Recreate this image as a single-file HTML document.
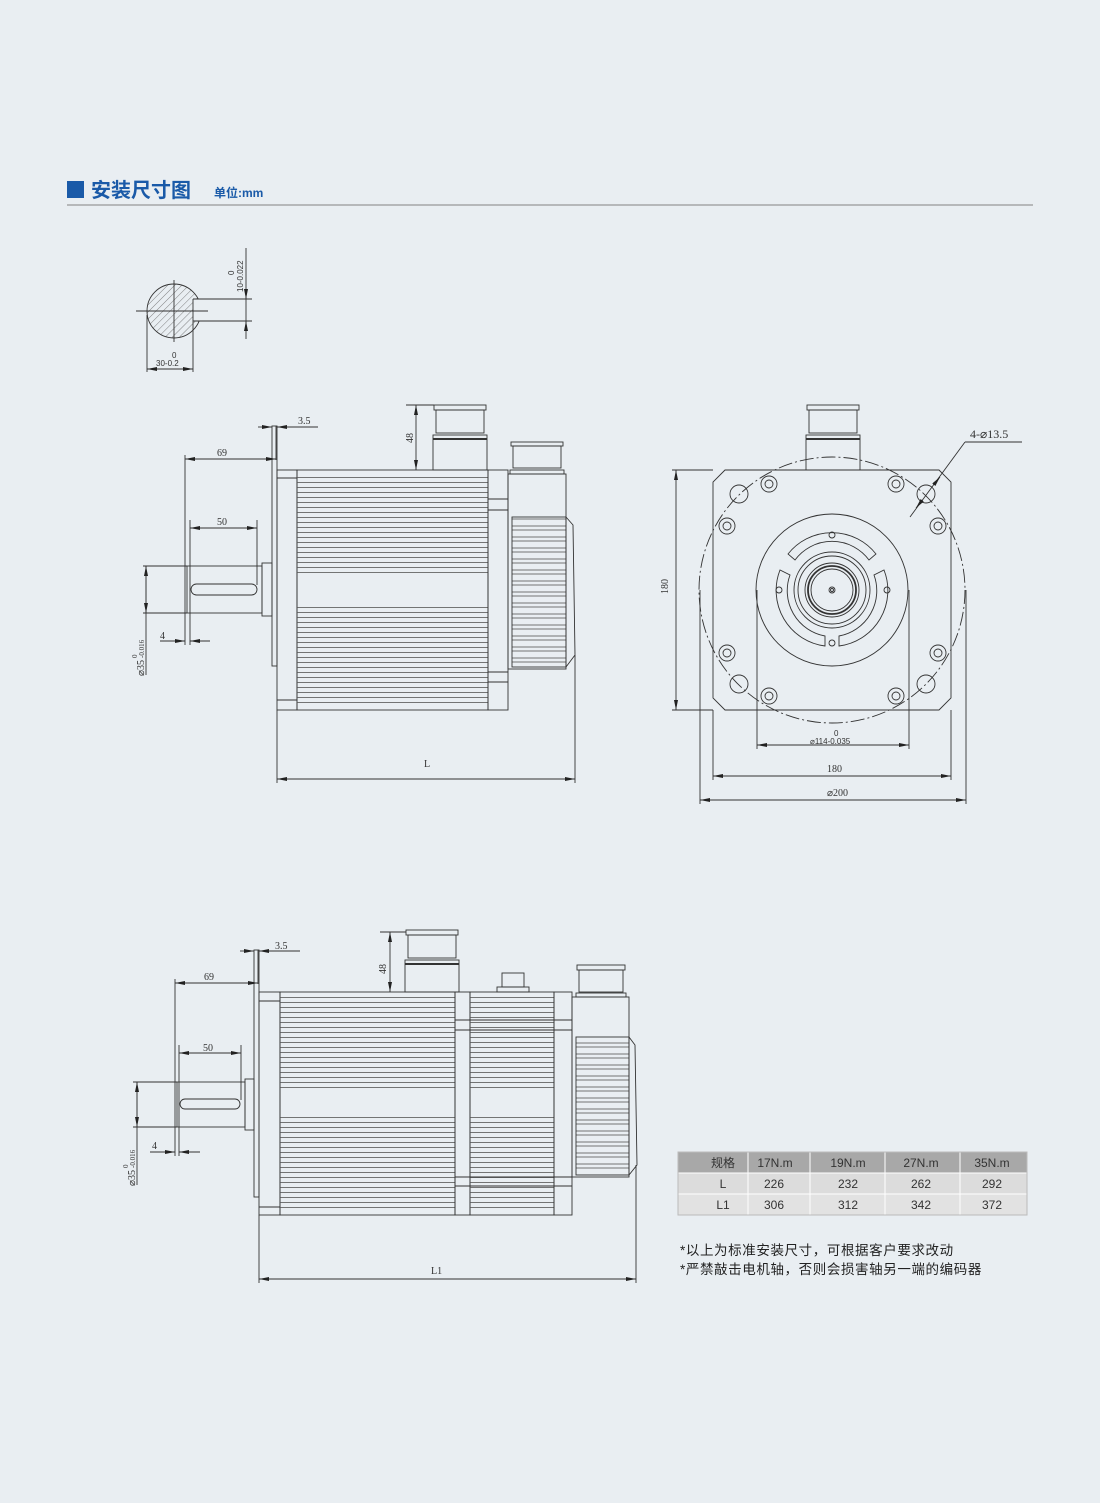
<!DOCTYPE html>
<html><head><meta charset="utf-8"><style>
html,body{margin:0;padding:0;background:#e9eef2;}
body{width:1100px;height:1503px;position:relative;overflow:hidden;font-family:"Liberation Sans","Noto Sans CJK SC",sans-serif;}
</style></head><body>
<svg width="1100" height="1503" viewBox="0 0 1100 1503" xmlns="http://www.w3.org/2000/svg" style="position:absolute;left:0;top:0">
<defs>
<marker id="a" viewBox="0 0 10 4" refX="10" refY="2" markerWidth="10" markerHeight="4" markerUnits="userSpaceOnUse" orient="auto-start-reverse"><path d="M0,0L10,2L0,4z" fill="#222"/></marker>
<pattern id="fin" width="10" height="5" patternUnits="userSpaceOnUse"><line x1="0" y1="2.5" x2="10" y2="2.5" stroke="#555" stroke-width="0.8"/></pattern>
<pattern id="efin" width="10" height="11" patternUnits="userSpaceOnUse"><rect x="-1" y="2" width="12" height="7" fill="none" stroke="#555" stroke-width="0.8"/></pattern>
<pattern id="hatch" width="5" height="5" patternUnits="userSpaceOnUse" patternTransform="rotate(45)"><line x1="0" y1="0" x2="0" y2="5" stroke="#666" stroke-width="0.8"/></pattern>
</defs>

<!-- header -->
<rect x="67" y="181" width="17" height="17" fill="#1a5aa8"/>
<text x="91" y="197" font-size="20" font-weight="bold" fill="#1a5aa8" font-family="Liberation Sans,Noto Sans CJK SC,sans-serif">安装尺寸图</text>
<text x="214" y="197" font-size="12" font-weight="bold" fill="#1a5aa8" font-family="Liberation Sans,Noto Sans CJK SC,sans-serif">单位:mm</text>
<line x1="67" y1="205" x2="1033" y2="205" stroke="#999" stroke-width="1.2"/>

<g fill="none" stroke="#333" stroke-width="0.9">
<!-- shaft section -->
<circle cx="174" cy="311" r="27" fill="url(#hatch)"/>
<rect x="193" y="299" width="10" height="22" fill="#e9eef2" stroke="none"/>
<line x1="193" y1="299" x2="193" y2="321"/>
<line x1="136" y1="311" x2="208" y2="311"/>
<line x1="174" y1="280" x2="174" y2="342"/>
<line x1="193" y1="299" x2="252" y2="299"/><line x1="193" y1="321" x2="252" y2="321"/>
<line x1="246" y1="248" x2="246" y2="339"/>
<line x1="246" y1="290" x2="246" y2="299" marker-end="url(#a)"/>
<line x1="246" y1="330" x2="246" y2="321" marker-end="url(#a)"/>
<line x1="147" y1="315" x2="147" y2="372"/><line x1="193" y1="321" x2="193" y2="372"/>
<line x1="147" y1="369" x2="193" y2="369" marker-start="url(#a)" marker-end="url(#a)"/>
</g>
<text x="243" y="292" font-size="8" fill="#333" transform="rotate(-90 243 292)">10-0.022</text>
<text x="234" y="275" font-size="8" fill="#333" transform="rotate(-90 234 275)">0</text>
<text x="172" y="358" font-size="8" fill="#333">0</text>
<text x="156" y="366" font-size="8" fill="#333">30-0.2</text>

<!-- ============ SIDE VIEW 1 ============ -->
<g fill="none" stroke="#333" stroke-width="0.9">
<rect x="272" y="426" width="5" height="240"/>
<rect x="277" y="470" width="20" height="240"/>
<line x1="277" y1="478" x2="297" y2="478"/><line x1="277" y1="700" x2="297" y2="700"/>
<rect x="297" y="470" width="191" height="240"/>
<rect x="297" y="474" width="191" height="100" fill="url(#fin)" stroke="none"/>
<rect x="297" y="605" width="191" height="100" fill="url(#fin)" stroke="none"/>
<rect x="488" y="470" width="20" height="240"/>
<line x1="488" y1="499" x2="508" y2="499"/><line x1="488" y1="510" x2="508" y2="510"/>
<line x1="488" y1="672" x2="508" y2="672"/><line x1="488" y1="682" x2="508" y2="682"/>
<!-- encoder -->
<rect x="508" y="474" width="58" height="195"/>
<rect x="512" y="517" width="54" height="150" fill="url(#efin)"/>
<path d="M566,517 L573,525 L575,655 L566,667"/>
<line x1="575" y1="655" x2="575" y2="783"/>
<!-- connectors -->
<rect x="434" y="405" width="52" height="5"/><rect x="436" y="410" width="48" height="23"/>
<rect x="433" y="435" width="54" height="35"/><line x1="433" y1="439" x2="487" y2="439" stroke-width="2"/>
<rect x="511" y="442" width="52" height="4"/><rect x="513" y="446" width="48" height="22"/>
<rect x="510" y="470" width="54" height="4"/>
<!-- shaft -->
<rect x="187" y="566" width="75" height="47"/>
<rect x="262" y="563" width="10" height="53"/>
<rect x="191" y="584" width="66" height="11" rx="5.5"/>
<!-- dims -->
<line x1="185" y1="455" x2="185" y2="645"/>
<line x1="185" y1="459" x2="276" y2="459" marker-start="url(#a)" marker-end="url(#a)"/>
<line x1="276" y1="426" x2="276" y2="460"/>
<line x1="190" y1="520" x2="190" y2="645"/><line x1="257" y1="520" x2="257" y2="585"/>
<line x1="190" y1="528" x2="257" y2="528" marker-start="url(#a)" marker-end="url(#a)"/>
<line x1="160" y1="641" x2="185" y2="641" marker-end="url(#a)"/>
<line x1="210" y1="641" x2="190" y2="641" marker-end="url(#a)"/>
<line x1="143" y1="566" x2="187" y2="566"/><line x1="143" y1="613" x2="187" y2="613"/>
<line x1="146" y1="566" x2="146" y2="675" />
<line x1="146" y1="590" x2="146" y2="566" marker-end="url(#a)"/>
<line x1="146" y1="590" x2="146" y2="613" marker-end="url(#a)"/>
<line x1="258" y1="427" x2="272" y2="427" marker-end="url(#a)"/>
<line x1="318" y1="427" x2="277" y2="427" marker-end="url(#a)"/>
<line x1="406" y1="405" x2="434" y2="405"/>
<line x1="416" y1="405" x2="416" y2="470" marker-start="url(#a)" marker-end="url(#a)"/>
<line x1="277" y1="710" x2="277" y2="783"/>
<line x1="277" y1="779" x2="575" y2="779" marker-start="url(#a)" marker-end="url(#a)"/>
</g>
<g font-family="Liberation Serif,serif" font-size="10" fill="#333">
<text x="298" y="424">3.5</text>
<text x="217" y="456">69</text>
<text x="217" y="525">50</text>
<text x="160" y="639">4</text>
<text x="424" y="767">L</text>
<text x="413" y="443" transform="rotate(-90 413 443)">48</text>
<text x="144" y="676" transform="rotate(-90 144 676)">⌀35</text>
<text x="137" y="658" font-size="7" transform="rotate(-90 137 658)">0</text>
<text x="144" y="658" font-size="7" transform="rotate(-90 144 658)">-0.016</text>
</g>

<!-- ============ FRONT VIEW ============ -->
<g fill="none" stroke="#333" stroke-width="0.9">
<path d="M725,470 L939,470 L951,482 L951,698 L939,710 L725,710 L713,698 L713,482 Z"/>
<circle cx="832" cy="590" r="133" stroke-dasharray="14,3,2,3"/>
<g>
<circle cx="769" cy="484" r="8"/><circle cx="769" cy="484" r="4"/>
<circle cx="896" cy="484" r="8"/><circle cx="896" cy="484" r="4"/>
<circle cx="727" cy="526" r="8"/><circle cx="727" cy="526" r="4"/>
<circle cx="938" cy="526" r="8"/><circle cx="938" cy="526" r="4"/>
<circle cx="727" cy="653" r="8"/><circle cx="727" cy="653" r="4"/>
<circle cx="938" cy="653" r="8"/><circle cx="938" cy="653" r="4"/>
<circle cx="769" cy="696" r="8"/><circle cx="769" cy="696" r="4"/>
<circle cx="896" cy="696" r="8"/><circle cx="896" cy="696" r="4"/>
<circle cx="739" cy="494" r="9"/><circle cx="926" cy="494" r="9"/>
<circle cx="739" cy="684" r="9"/><circle cx="926" cy="684" r="9"/>
</g>
<circle cx="832" cy="590" r="76"/>
<path d="M788,554 A56,56 0 0 1 876,554 L869,560 A46,46 0 0 0 795,560 Z"/>
<path d="M780,570 A56,56 0 0 0 825,646 L825,636 A46,46 0 0 1 790,575 Z"/>
<path d="M884,570 A56,56 0 0 1 839,646 L839,636 A46,46 0 0 0 874,575 Z"/>
<circle cx="832" cy="535" r="3"/><circle cx="832" cy="643" r="3"/>
<circle cx="779" cy="590" r="3"/><circle cx="887" cy="590" r="3"/>
<circle cx="832" cy="590" r="38"/><circle cx="832" cy="590" r="34"/>
<circle cx="832" cy="590" r="27"/><circle cx="832" cy="590" r="24" stroke-width="1.8"/><circle cx="832" cy="590" r="21"/>
<circle cx="832" cy="590" r="3"/><circle cx="832" cy="590" r="1.5"/>
<!-- connector -->
<rect x="807" y="405" width="52" height="5"/><rect x="809" y="410" width="48" height="23"/>
<rect x="806" y="435" width="54" height="35"/><line x1="806" y1="439" x2="860" y2="439" stroke-width="2"/>
<!-- dims -->
<line x1="757" y1="590" x2="757" y2="749"/><line x1="909" y1="590" x2="909" y2="749"/>
<line x1="757" y1="745" x2="909" y2="745" marker-start="url(#a)" marker-end="url(#a)"/>
<line x1="713" y1="710" x2="713" y2="780"/><line x1="951" y1="710" x2="951" y2="780"/>
<line x1="713" y1="776" x2="951" y2="776" marker-start="url(#a)" marker-end="url(#a)"/>
<line x1="700" y1="590" x2="700" y2="804"/><line x1="966" y1="590" x2="966" y2="804"/>
<line x1="700" y1="800" x2="966" y2="800" marker-start="url(#a)" marker-end="url(#a)"/>
<line x1="672" y1="470" x2="713" y2="470"/><line x1="672" y1="710" x2="713" y2="710"/>
<line x1="676" y1="470" x2="676" y2="710" marker-start="url(#a)" marker-end="url(#a)"/>
<line x1="910" y1="517" x2="965" y2="442"/><line x1="965" y1="442" x2="1022" y2="442"/>
<line x1="920" y1="503" x2="916" y2="508" marker-end="url(#a)"/>
<line x1="936" y1="482" x2="940" y2="477" marker-end="url(#a)"/>
</g>
<g font-family="Liberation Serif,serif" font-size="10" fill="#333">
<text x="827" y="772">180</text>
<text x="827" y="796">⌀200</text>
<text x="668" y="594" transform="rotate(-90 668 594)">180</text>
<text x="970" y="438" font-size="12">4-⌀13.5</text>
</g>
<text x="834" y="736" font-size="8" fill="#333">0</text>
<text x="810" y="744" font-size="8" fill="#333">⌀114-0.035</text>

<!-- ============ SIDE VIEW 2 ============ -->
<g fill="none" stroke="#333" stroke-width="0.9">
<rect x="254" y="950" width="5" height="247"/>
<rect x="259" y="992" width="21" height="223"/>
<line x1="259" y1="1001" x2="280" y2="1001"/><line x1="259" y1="1207" x2="280" y2="1207"/>
<rect x="280" y="992" width="175" height="223"/>
<rect x="280" y="996" width="175" height="92" fill="url(#fin)" stroke="none"/>
<rect x="280" y="1117" width="175" height="95" fill="url(#fin)" stroke="none"/>
<rect x="455" y="992" width="15" height="223"/>
<rect x="470" y="992" width="84" height="223"/>
<rect x="470" y="996" width="84" height="92" fill="url(#fin)" stroke="none"/>
<rect x="470" y="1117" width="84" height="95" fill="url(#fin)" stroke="none"/>
<rect x="554" y="992" width="18" height="223"/>
<line x1="455" y1="1020" x2="572" y2="1020"/><line x1="455" y1="1030" x2="572" y2="1030"/>
<line x1="455" y1="1177" x2="572" y2="1177"/><line x1="455" y1="1186" x2="572" y2="1186"/>
<rect x="572" y="997" width="57" height="180"/>
<rect x="576" y="1037" width="53" height="138" fill="url(#efin)"/>
<path d="M629,1037 L635,1045 L637,1165 L629,1175"/>
<line x1="636" y1="1165" x2="636" y2="1283"/>
<rect x="406" y="930" width="52" height="5"/><rect x="408" y="935" width="48" height="23"/>
<rect x="405" y="960" width="54" height="32"/><line x1="405" y1="964" x2="459" y2="964" stroke-width="2"/>
<rect x="502" y="973" width="22" height="14"/><rect x="497" y="987" width="32" height="5"/>
<rect x="577" y="965" width="48" height="5"/><rect x="579" y="970" width="44" height="22"/>
<rect x="576" y="993" width="50" height="4"/>
<rect x="177" y="1082" width="68" height="45"/>
<rect x="245" y="1079" width="9" height="51"/>
<rect x="180" y="1099" width="60" height="10" rx="5"/>
<line x1="175" y1="979" x2="175" y2="1156"/>
<line x1="175" y1="983" x2="258" y2="983" marker-start="url(#a)" marker-end="url(#a)"/>
<line x1="258" y1="950" x2="258" y2="984"/>
<line x1="179" y1="1045" x2="179" y2="1156"/><line x1="241" y1="1045" x2="241" y2="1100"/>
<line x1="179" y1="1053" x2="241" y2="1053" marker-start="url(#a)" marker-end="url(#a)"/>
<line x1="150" y1="1152" x2="175" y2="1152" marker-end="url(#a)"/>
<line x1="200" y1="1152" x2="179" y2="1152" marker-end="url(#a)"/>
<line x1="133" y1="1082" x2="177" y2="1082"/><line x1="133" y1="1127" x2="177" y2="1127"/>
<line x1="137" y1="1082" x2="137" y2="1185"/>
<line x1="137" y1="1105" x2="137" y2="1082" marker-end="url(#a)"/>
<line x1="137" y1="1105" x2="137" y2="1127" marker-end="url(#a)"/>
<line x1="240" y1="951" x2="254" y2="951" marker-end="url(#a)"/>
<line x1="300" y1="951" x2="259" y2="951" marker-end="url(#a)"/>
<line x1="380" y1="932" x2="406" y2="932"/>
<line x1="390" y1="932" x2="390" y2="992" marker-start="url(#a)" marker-end="url(#a)"/>
<line x1="259" y1="1215" x2="259" y2="1283"/>
<line x1="259" y1="1279" x2="636" y2="1279" marker-start="url(#a)" marker-end="url(#a)"/>
</g>
<g font-family="Liberation Serif,serif" font-size="10" fill="#333">
<text x="275" y="949">3.5</text>
<text x="204" y="980">69</text>
<text x="203" y="1051">50</text>
<text x="152" y="1149">4</text>
<text x="431" y="1274">L1</text>
<text x="386" y="974" transform="rotate(-90 386 974)">48</text>
<text x="135" y="1186" transform="rotate(-90 135 1186)">⌀35</text>
<text x="128" y="1168" font-size="7" transform="rotate(-90 128 1168)">0</text>
<text x="135" y="1168" font-size="7" transform="rotate(-90 135 1168)">-0.016</text>
</g>

<!-- table -->
<rect x="678" y="1152" width="349" height="21" fill="#a8a8a8"/>
<rect x="678" y="1173" width="349" height="21" fill="#dcdcdc"/>
<rect x="678" y="1194" width="349" height="21" fill="#e2e2e2"/>
<g stroke="#fff" stroke-width="1">
<line x1="678" y1="1173" x2="1027" y2="1173"/><line x1="678" y1="1194" x2="1027" y2="1194"/>
<line x1="748" y1="1152" x2="748" y2="1215"/><line x1="810" y1="1152" x2="810" y2="1215"/>
<line x1="885" y1="1152" x2="885" y2="1215"/><line x1="960" y1="1152" x2="960" y2="1215"/>
</g>
<rect x="678" y="1152" width="349" height="63" fill="none" stroke="#bbb"/>
<g font-size="12" fill="#333" text-anchor="middle" font-family="Liberation Sans,Noto Sans CJK SC,sans-serif">
<text x="723" y="1167">规格</text><text x="775" y="1167">17N.m</text><text x="848" y="1167">19N.m</text><text x="921" y="1167">27N.m</text><text x="992" y="1167">35N.m</text>
<text x="723" y="1188">L</text><text x="774" y="1188">226</text><text x="848" y="1188">232</text><text x="921" y="1188">262</text><text x="992" y="1188">292</text>
<text x="723" y="1209">L1</text><text x="774" y="1209">306</text><text x="848" y="1209">312</text><text x="921" y="1209">342</text><text x="992" y="1209">372</text>
</g>
<g font-size="13.5" fill="#222" letter-spacing="0.6" font-family="Liberation Sans,Noto Sans CJK SC,sans-serif">
<text x="680" y="1255">*以上为标准安装尺寸，可根据客户要求改动</text>
<text x="680" y="1274">*严禁敲击电机轴，否则会损害轴另一端的编码器</text>
</g>
</svg>
</body></html>
